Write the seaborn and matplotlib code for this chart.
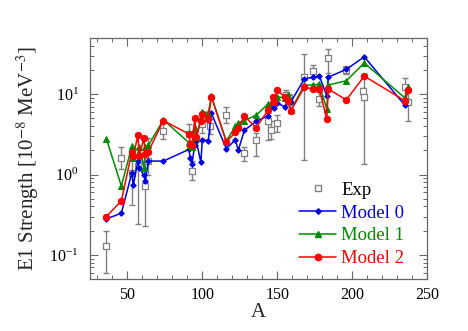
import numpy as np
import pandas as pd
import matplotlib
matplotlib.use("Agg")
import matplotlib.pyplot as plt
from matplotlib.ticker import MultipleLocator, LogLocator, NullFormatter
from matplotlib.lines import Line2D
import seaborn as sns

# ---------------- data ----------------
A_model = [36, 46, 53, 54, 57, 58, 61, 62, 64, 74, 91, 92, 93, 95, 96, 99, 100,
           104, 106, 116, 122, 124, 128, 136, 144, 147, 148, 150, 155, 157, 159,
           168, 174, 178, 183, 184, 196, 208, 235, 237]
model0 = [0.28, 0.33, 1.05, 0.74, 1.47, 1.2, 0.98, 0.83, 1.47, 1.47, 2.05, 1.6,
          1.37, 2.3, 2.6, 1.42, 2.7, 2.65, 5.8, 2.1, 2.7, 2.0, 3.55, 4.6, 5.4,
          7.2, 6.8, 7.7, 7.0, 8.1, 8.0, 15.5, 16.3, 17.0, 9.5, 16.3, 20.4, 29.2,
          7.3, 11.5]
model1 = [2.8, 0.72, 2.25, 1.6, 1.78, 2.2, 1.22, 2.2, 2.3, 4.8, 2.5, 2.3, 2.2,
          3.8, 2.9, 5.0, 6.0, 5.9, 9.5, 2.6, 4.0, 4.4, 4.7, 5.5, 7.6, 8.1, 8.0,
          9.3, 9.0, 9.8, 6.3, 13.0, 13.0, 13.4, 6.5, 13.0, 14.7, 24.5, 9.0, 12.3]
model2 = [0.30, 0.47, 1.92, 1.7, 3.07, 1.7, 2.85, 1.78, 1.92, 4.7, 3.2, 2.4,
          2.36, 5.0, 2.94, 4.6, 5.7, 4.9, 9.3, 2.55, 3.35, 3.8, 5.3, 3.85, 6.4,
          9.3, 8.0, 11.3, 9.2, 8.3, 6.2, 12.2, 11.6, 11.6, 4.9, 11.6, 8.5, 16.8,
          8.3, 11.3]

A_exp = [36, 46, 53, 57, 62, 64, 74, 91, 93, 100, 105, 116, 128, 136, 144, 146,
         150, 156, 158, 168, 174, 178, 184, 196, 207, 208, 235, 237]
S_exp = [0.13, 1.6, 1.05, 1.26, 0.72, 1.47, 3.45, 3.2, 1.12, 4.2, 4.0, 5.5,
         1.86, 2.7, 4.6, 3.6, 4.4, 9.8, 8.9, 16.5, 19.6, 8.7, 27.9, 20.0, 11.0,
         9.3, 12.2, 8.1]
S_exp_lo = [0.06, 1.18, 0.42, 0.24, 0.23, 1.0, 2.77, 2.4, 0.85, 3.3, 3.2, 4.4,
            1.46, 1.7, 2.7, 2.8, 3.4, 8.5, 7.8, 1.5, 16.5, 7.2, 18.2, 18.0, 10.0,
            1.37, 8.6, 4.7]
S_exp_hi = [0.20, 2.18, 1.7, 2.16, 1.69, 2.85, 4.4, 4.2, 1.47, 5.2, 4.9, 7.0,
            2.2, 3.3, 5.8, 4.6, 5.5, 11.2, 10.0, 31.5, 23.0, 10.8, 37.0, 22.5,
            12.0, 17.0, 15.8, 11.5]

labels = ["Exp", "Model 0", "Model 1", "Model 2"]

# ---------------- style ----------------
sns.set_theme(style="ticks")
plt.rcParams["font.family"] = ["Liberation Serif", "DejaVu Serif"]
plt.rcParams["mathtext.fontset"] = "stix"

C_EXP = "#808080"
C0, C1, C2 = "#0000e0", "#008a00", "#ff0000"
FRAME = "#666666"

fig = plt.figure(figsize=(4.68, 3.31), dpi=100)
ax = fig.add_axes([0.192, 0.157, 0.721, 0.728])

# experiment
exp = pd.DataFrame({"A": A_exp, "S": S_exp, "lo": S_exp_lo, "hi": S_exp_hi})
ax.errorbar(exp["A"], exp["S"],
            yerr=[exp["S"] - exp["lo"], exp["hi"] - exp["S"]],
            fmt="none", ecolor=C_EXP, elinewidth=1.0, capsize=2.5,
            capthick=1.0, zorder=1)
sns.scatterplot(data=exp, x="A", y="S", marker="s", s=24,
                facecolor="white", edgecolor=C_EXP, linewidth=0.9,
                ax=ax, zorder=2, legend=False)

models = pd.DataFrame({"A": A_model, "m0": model0, "m1": model1, "m2": model2})
specs = [("m0", C0, "D", 2.8), ("m1", C1, "^", 4.4), ("m2", C2, "o", 4.6)]
for i, (col, c, mk, ms) in enumerate(specs):
    sns.lineplot(data=models, x="A", y=col, color=c, marker=mk,
                 markersize=ms, markeredgecolor=c, linewidth=1.1,
                 ax=ax, zorder=3 + i, legend=False, sort=True)

ax.set_yscale("log")
ax.set_xlim(25, 250)
ax.set_ylim(0.05, 50)
ax.set_xticks([50, 100, 150, 200, 250])
ax.xaxis.set_minor_locator(MultipleLocator(10))
ax.yaxis.set_major_locator(LogLocator(base=10, numticks=10))
ax.yaxis.set_minor_locator(LogLocator(base=10, subs=np.arange(2, 10), numticks=20))
ax.yaxis.set_minor_formatter(NullFormatter())

ax.tick_params(which="both", direction="in", top=True, right=True,
               color=FRAME, labelsize=11.5, labelcolor="black")
ax.tick_params(which="major", length=6, width=0.8, pad=6)
ax.tick_params(which="minor", length=3, width=0.7)
ax.tick_params(axis="y", which="major", pad=8)
for s in ax.spines.values():
    s.set_color(FRAME)
    s.set_linewidth(0.9)

ax.set_xlabel("A", fontsize=15, labelpad=0)
ax.set_ylabel("E1 Strength [10$^{-8}$ MeV$^{-3}$]", fontsize=15, labelpad=6)

handles = [
    Line2D([], [], linestyle="none", marker="s", markersize=5,
           markerfacecolor="white", markeredgecolor=C_EXP),
    Line2D([], [], color=C0, marker="D", markersize=2.8, linewidth=1.1),
    Line2D([], [], color=C1, marker="^", markersize=4.4, linewidth=1.1),
    Line2D([], [], color=C2, marker="o", markersize=4.6, linewidth=1.1),
]
leg = ax.legend(handles, labels, loc="lower right", bbox_to_anchor=(0.97, -0.005),
                frameon=False, fontsize=13.5, handlelength=2.0,
                handletextpad=0.25, labelspacing=0.3, borderpad=0.2)
for t, c in zip(leg.get_texts(), ["black", C0, C1, C2]):
    t.set_color(c)

fig.savefig("out.png", dpi=100)
